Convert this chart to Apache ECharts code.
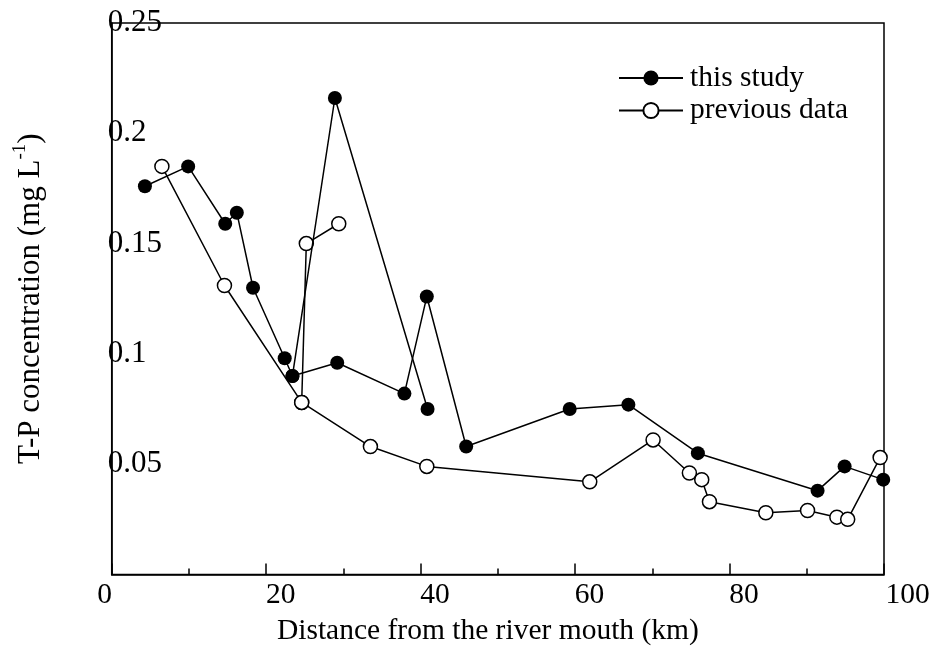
<!DOCTYPE html>
<html>
<head>
<meta charset="utf-8">
<script src="https://cdn.jsdelivr.net/npm/echarts@6/dist/echarts.min.js"></script>
<style>
  html, body { margin: 0; padding: 0; background: #fff; }
  #chart { width: 937px; height: 652px; }
</style>
</head>
<body>
<div id="chart"></div>
<script>
// T-P along the river: main channel plus a short side branch for each survey
const studyDist = [4.3, 9.9, 14.7, 16.2, 18.3, 22.4, 23.4, 29.2, 37.9, 40.8, 45.9, 59.3, 66.9, 75.9, 91.4, 94.9, 99.9];
const studyTP   = [0.176, 0.185, 0.159, 0.164, 0.130, 0.098, 0.090, 0.096, 0.082, 0.126, 0.058, 0.075, 0.077, 0.055, 0.038, 0.049, 0.043];
const studyBranchDist = [23.4, 28.9, 40.9];
const studyBranchTP   = [0.090, 0.216, 0.075];

const prevDist = [6.5, 14.6, 24.6, 33.5, 40.8, 61.9, 70.1, 74.8, 76.4, 77.4, 84.7, 90.1, 93.9, 95.3, 99.5];
const prevTP   = [0.185, 0.131, 0.078, 0.058, 0.049, 0.042, 0.061, 0.046, 0.043, 0.033, 0.028, 0.029, 0.026, 0.025, 0.053];
const prevBranchDist = [24.6, 25.2, 29.4];
const prevBranchTP   = [0.078, 0.150, 0.159];

const xTicks = [0, 20, 40, 60, 80, 100];
const yTicks = [0.05, 0.1, 0.15, 0.2, 0.25];

const FONT = '"Liberation Serif", "Times New Roman", serif';
const FS = 29.5;
const pairs = (xs, ys) => xs.map((x, i) => [x, ys[i]]);

const filledStyle = {
  type: 'line',
  name: 'this study',
  symbol: 'circle',
  symbolSize: 14,
  itemStyle: { color: '#000' },
  lineStyle: { color: '#000', width: 1.5 },
  emphasis: { disabled: true },
  z: 3
};
const hollowStyle = {
  type: 'line',
  name: 'previous data',
  symbol: 'circle',
  symbolSize: 14,
  itemStyle: { color: '#fff', borderColor: '#000', borderWidth: 1.5 },
  lineStyle: { color: '#000', width: 1.5 },
  emphasis: { disabled: true },
  z: 2
};

const chart = echarts.init(document.getElementById('chart'), null, { renderer: 'canvas' });
chart.setOption({
  animation: false,
  backgroundColor: '#fff',
  textStyle: { fontFamily: FONT, color: '#000' },
  grid: {
    left: 111.7, right: 53, top: 23, bottom: 77.5,
    show: true, borderColor: '#000', borderWidth: 1.5, backgroundColor: 'transparent'
  },
  legend: {
    orient: 'vertical',
    left: 618, top: 63,
    padding: 0,
    itemWidth: 64, itemHeight: 19, itemGap: 2.5,
    data: ['this study', 'previous data'],
    textStyle: { fontFamily: FONT, fontSize: FS, color: '#000', padding: [0, 0, 0, 2] }
  },
  xAxis: {
    type: 'value',
    min: 0, max: 100, interval: 20,
    name: 'Distance from the river mouth (km)',
    nameLocation: 'middle',
    nameGap: 42,
    nameTextStyle: { fontFamily: FONT, fontSize: FS, color: '#000', padding: [0, 20, 0, 0] },
    axisLine: { lineStyle: { color: '#000', width: 1.5 } },
    axisTick: { inside: true, length: 11, lineStyle: { color: '#000', width: 1.5 } },
    minorTick: { show: true, splitNumber: 2, length: 6, lineStyle: { color: '#000', width: 1.5 } },
    splitLine: { show: false },
    axisLabel: {
      margin: 6,
      showMinLabel: true, showMaxLabel: true,
      formatter: function (v) {
        if (xTicks.indexOf(v) < 0) return '';
        const s = String(v);
        if (v === 0) return '{v|' + s + '}{p1| }';
        return '{p' + s.length + '| }{v|' + s + '}';
      },
      rich: {
        v: { fontFamily: FONT, fontSize: FS, color: '#000' },
        p1: { width: 14, fontSize: FS },
        p2: { width: 29, fontSize: FS },
        p3: { width: 47, fontSize: FS }
      }
    }
  },
  yAxis: {
    type: 'value',
    min: 0, max: 0.25, interval: 0.05,
    name: '{a|T-P concentration (mg L}{s|-1}{a|)}',
    nameLocation: 'middle',
    nameGap: 65,
    nameTextStyle: {
      rich: {
        a: { fontFamily: FONT, fontSize: 31, color: '#000', lineHeight: 36, verticalAlign: 'bottom' },
        s: { fontFamily: FONT, fontSize: 19, color: '#000', lineHeight: 36, verticalAlign: 'top' }
      }
    },
    axisLine: { show: true, lineStyle: { color: '#000', width: 1.5 } },
    axisTick: { show: false },
    splitLine: { show: false },
    axisLabel: {
      inside: true,
      margin: -4,
      align: 'left',
      showMinLabel: true, showMaxLabel: true,
      fontFamily: FONT, fontSize: 31, color: '#000',
      formatter: function (v) {
        const hit = yTicks.find(t => Math.abs(t - v) < 1e-9);
        return hit === undefined ? '' : String(hit);
      }
    }
  },
  series: [
    Object.assign({}, filledStyle, { data: pairs(studyDist, studyTP) }),
    Object.assign({}, filledStyle, { data: pairs(studyBranchDist, studyBranchTP) }),
    Object.assign({}, hollowStyle, { data: pairs(prevDist, prevTP) }),
    Object.assign({}, hollowStyle, { data: pairs(prevBranchDist, prevBranchTP) })
  ]
});
</script>
</body>
</html>
